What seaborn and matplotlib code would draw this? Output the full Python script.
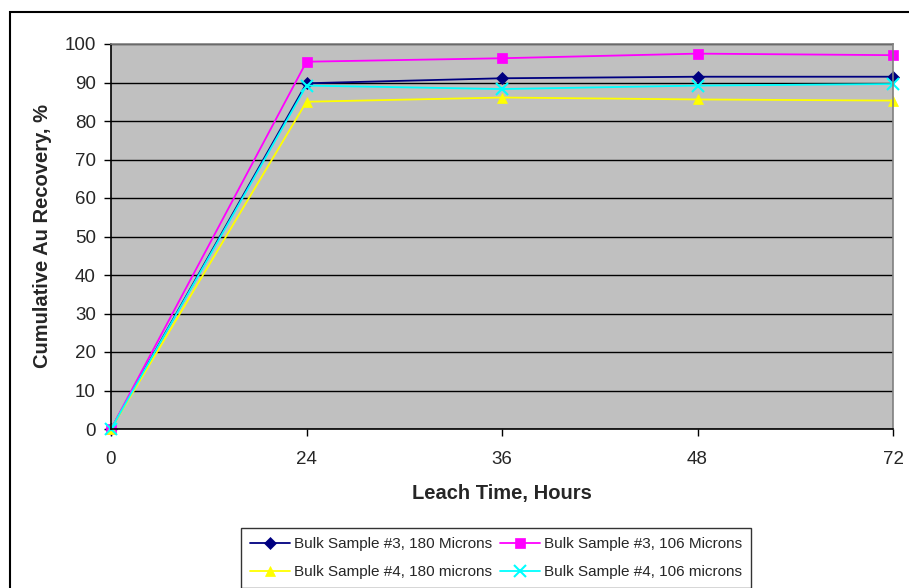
import matplotlib
matplotlib.use("Agg")
import matplotlib.pyplot as plt
import seaborn as sns
import pandas as pd
from matplotlib.patches import Rectangle

hours = ["0", "24", "36", "48", "72"]
s3_180 = [0, 89.8, 91.1, 91.5, 91.5]
s3_106 = [0, 95.4, 96.3, 97.5, 97.1]
s4_180 = [0, 85.0, 86.1, 85.6, 85.3]
s4_106 = [0, 89.2, 88.3, 89.2, 89.6]
names = ["Bulk Sample #3, 180 Microns", "Bulk Sample #3, 106 Microns",
         "Bulk Sample #4, 180 microns", "Bulk Sample #4, 106 microns"]
series = [s3_180, s3_106, s4_180, s4_106]
colors = ["#000080", "#FF00FF", "#FFFF00", "#00FFFF"]
markers = ["D", "s", "^", "x"]
msizes = [6, 6.5, 7.5, 8]

sns.set_style("white")
plt.rcParams["font.family"] = ["Liberation Sans", "DejaVu Sans"]

fig = plt.figure(figsize=(9.09, 5.88), dpi=100)
ax = fig.add_axes([111/909, 1-429/588, (893-111)/909, (429-44)/588])
ax.set_facecolor("#C0C0C0")

for name, vals, c, m, ms in zip(names, series, colors, markers, msizes):
    df = pd.DataFrame({"pos": list(range(len(hours))), "val": vals})
    sns.lineplot(data=df, x="pos", y="val", ax=ax, color=c, marker=m,
                 markersize=ms, markeredgecolor=c,
                 markeredgewidth=1.5 if m == "x" else 0.5,
                 linewidth=1.3, label=name, legend=False, clip_on=False)

ax.set_xlim(0, len(hours) - 1)
ax.set_ylim(0, 100)
ax.set_xticks(range(len(hours)))
ax.set_xticklabels(hours)
ax.set_yticks(range(0, 101, 10))
ax.yaxis.grid(True, color="black", linewidth=1)
ax.xaxis.grid(False)
ax.set_axisbelow(True)
ax.tick_params(axis="both", which="major", direction="out", length=5, width=1,
               color="black", labelsize=13.5, bottom=True, left=True)
ax.tick_params(axis="y", pad=6)
ax.tick_params(axis="x", pad=11)
for sp in ["top", "right"]:
    ax.spines[sp].set_color("#808080")
    ax.spines[sp].set_linewidth(1.2)
for sp in ["left", "bottom"]:
    ax.spines[sp].set_color("black")
    ax.spines[sp].set_linewidth(1.2)

ax.set_xlabel("Leach Time, Hours", fontsize=14.5, fontweight="bold", labelpad=11)
ax.set_ylabel("Cumulative Au Recovery, %", fontsize=14.5, fontweight="bold", labelpad=9)

handles, labels = ax.get_legend_handles_labels()
order = [0, 2, 1, 3]
leg = fig.legend([handles[i] for i in order], [labels[i] for i in order],
                 ncol=2, loc="upper left",
                 bbox_to_anchor=(241/909, 1-528/588), fontsize=11,
                 frameon=True, fancybox=False, edgecolor="black",
                 handlelength=2.6, handletextpad=0.27, columnspacing=0.5,
                 labelspacing=0.9, borderpad=0.6, borderaxespad=0)
leg.get_frame().set_linewidth(1.0)

fig.add_artist(Rectangle((10/909, -0.2), 1.2, 1.2 - 12/588,
                         transform=fig.transFigure, fill=False,
                         edgecolor="black", linewidth=1.5))

fig.savefig("out.png", dpi=100)
